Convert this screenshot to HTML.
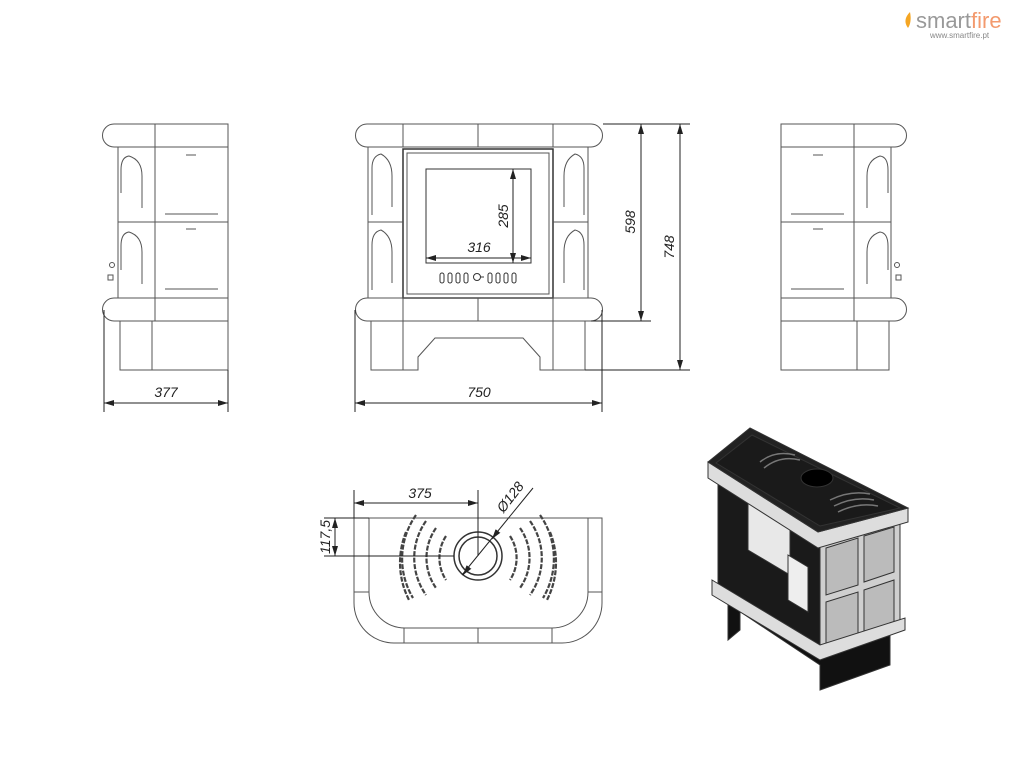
<!DOCTYPE html>
<html><head><meta charset="utf-8"><style>
html,body{margin:0;padding:0;background:#fff;}
svg{display:block}
text{font-family:"Liberation Sans",sans-serif;font-style:italic;fill:#222}
</style></head><body>
<svg width="1024" height="768" viewBox="0 0 1024 768" xmlns="http://www.w3.org/2000/svg">
<defs>
<marker id="a" viewBox="0 0 10 6" refX="10" refY="3" markerWidth="10" markerHeight="6" orient="auto-start-reverse"><path d="M0,0 L10,3 L0,6z" fill="#222"/></marker>
<g id="side" fill="none" stroke="#555" stroke-width="1">
 <path d="M114,124 H228 V147 H114 A11.5,11.5 0 0 1 114,124z"/>
 <line x1="155" y1="124" x2="155" y2="147"/>
 <rect x="118" y="147" width="110" height="151"/>
 <line x1="155" y1="147" x2="155" y2="298"/>
 <line x1="118" y1="222" x2="228" y2="222"/>
 <path d="M121,193 V170 Q121,157 129,156 Q142,160 142,176 V208"/>
 <path d="M121,270 V246 Q121,233 129,232 Q142,236 142,252 V284"/>
 <line x1="165" y1="214" x2="218" y2="214"/>
 <line x1="165" y1="289" x2="218" y2="289"/>
 <line x1="186" y1="155" x2="196" y2="155"/>
 <line x1="186" y1="229" x2="196" y2="229"/>
 <path d="M114,298 H228 V321 H114 A11.5,11.5 0 0 1 114,298z"/>
 <line x1="155" y1="298" x2="155" y2="321"/>
 <rect x="120" y="321" width="108" height="49"/>
 <line x1="152" y1="321" x2="152" y2="370"/>
 <circle cx="112" cy="265" r="2.5"/><rect x="108" y="275" width="5" height="5"/>
</g>
</defs>

<!-- left side view -->
<use href="#side"/>
<g stroke="#222" stroke-width="1" fill="none">
<line x1="104" y1="310" x2="104" y2="412"/><line x1="228" y1="370" x2="228" y2="412"/>
<line x1="104" y1="403" x2="228" y2="403" marker-start="url(#a)" marker-end="url(#a)"/>
</g>
<text x="166" y="397" font-size="14" text-anchor="middle">377</text>

<!-- right side view -->
<use href="#side" transform="translate(1009,0) scale(-1,1)"/>

<!-- front view -->
<g fill="none" stroke="#555" stroke-width="1">
 <path d="M367,124 H591 A11.5,11.5 0 0 1 591,147 H367 A11.5,11.5 0 0 1 367,124z"/>
 <line x1="403" y1="124" x2="403" y2="147"/><line x1="478" y1="124" x2="478" y2="147"/><line x1="553" y1="124" x2="553" y2="147"/>
 <rect x="368" y="147" width="220" height="151"/>
 <rect x="403" y="149" width="150" height="149" stroke="#333" stroke-width="1.5"/>
 <rect x="407" y="153" width="142" height="141"/>
 <line x1="368" y1="222" x2="403" y2="222"/><line x1="553" y1="222" x2="588" y2="222"/>
 <path d="M372,215 V168 Q372,156 381,154 Q392,160 392,176 V207"/>
 <path d="M372,290 V245 Q372,232 381,230 Q392,236 392,252 V283"/>
 <path d="M584,215 V168 Q584,156 575,154 Q564,160 564,176 V207"/>
 <path d="M584,290 V245 Q584,232 575,230 Q564,236 564,252 V283"/>
 <rect x="426" y="169" width="105" height="94" stroke="#333"/>
 <g stroke="#333">
 <rect x="440" y="273" width="4" height="10" rx="2"/><rect x="448" y="273" width="4" height="10" rx="2"/><rect x="456" y="273" width="4" height="10" rx="2"/><rect x="464" y="273" width="4" height="10" rx="2"/>
 <circle cx="477" cy="277" r="3.5"/><line x1="480" y1="277" x2="484" y2="277"/>
 <rect x="488" y="273" width="4" height="10" rx="2"/><rect x="496" y="273" width="4" height="10" rx="2"/><rect x="504" y="273" width="4" height="10" rx="2"/><rect x="512" y="273" width="4" height="10" rx="2"/>
 </g>
 <path d="M367,298 H591 A11.5,11.5 0 0 1 591,321 H367 A11.5,11.5 0 0 1 367,298z"/>
 <line x1="403" y1="298" x2="403" y2="321"/><line x1="478" y1="298" x2="478" y2="321"/><line x1="553" y1="298" x2="553" y2="321"/>
 <path d="M371,321 V370 H418 V357 L435,338 H523 L540,357 V370 H585 V321"/>
 <line x1="403" y1="321" x2="403" y2="370"/><line x1="553" y1="321" x2="553" y2="370"/>
</g>
<g stroke="#222" stroke-width="1" fill="none">
 <line x1="513" y1="169" x2="513" y2="263" marker-start="url(#a)" marker-end="url(#a)"/>
 <line x1="426" y1="258" x2="531" y2="258" marker-start="url(#a)" marker-end="url(#a)"/>
 <line x1="603" y1="124" x2="690" y2="124"/>
 <line x1="591" y1="321" x2="651" y2="321"/>
 <line x1="585" y1="370" x2="690" y2="370"/>
 <line x1="641" y1="124" x2="641" y2="321" marker-start="url(#a)" marker-end="url(#a)"/>
 <line x1="680" y1="124" x2="680" y2="370" marker-start="url(#a)" marker-end="url(#a)"/>
 <line x1="355" y1="310" x2="355" y2="412"/><line x1="602" y1="310" x2="602" y2="412"/>
 <line x1="355" y1="403" x2="602" y2="403" marker-start="url(#a)" marker-end="url(#a)"/>
</g>
<text x="479" y="252" font-size="14" text-anchor="middle">316</text>
<text transform="translate(508,216) rotate(-90)" font-size="14" text-anchor="middle">285</text>
<text transform="translate(635,222) rotate(-90)" font-size="14" text-anchor="middle">598</text>
<text transform="translate(674,247) rotate(-90)" font-size="14" text-anchor="middle">748</text>
<text x="479" y="397" font-size="14" text-anchor="middle">750</text>

<!-- top view -->
<g fill="none" stroke="#555" stroke-width="1">
 <path d="M354,518 H369 V592 H354z"/><path d="M588,518 H602 V592 H588z"/>
 <path d="M354,592 V603 A40,40 0 0 0 394,643 H562 A40,40 0 0 0 602,603 V592"/>
 <path d="M369,518 H588 V592 A36,36 0 0 1 552,628 H405 A36,36 0 0 1 369,592z"/>
 <line x1="404" y1="628" x2="404" y2="643"/><line x1="478" y1="628" x2="478" y2="643"/><line x1="552" y1="628" x2="552" y2="643"/>
 <circle cx="478" cy="556" r="24" stroke="#333" stroke-width="1.5"/>
 <circle cx="478" cy="556" r="19" stroke="#333" stroke-width="1.5"/>
 <g stroke="#444" stroke-width="2.2" stroke-dasharray="5 1.5">
  <path d="M446,536 A40,40 0 0 0 446,580"/><path d="M436,528 A52,52 0 0 0 436,588"/><path d="M426,521 A64,64 0 0 0 426,595"/><path d="M416,515 A76,76 0 0 0 413,598"/><path d="M406,532 A82,82 0 0 0 409,600"/>
  <path d="M510,536 A40,40 0 0 1 510,580"/><path d="M520,528 A52,52 0 0 1 520,588"/><path d="M530,521 A64,64 0 0 1 530,595"/><path d="M540,515 A76,76 0 0 1 543,598"/><path d="M550,532 A82,82 0 0 1 547,600"/>
 </g>
</g>
<g stroke="#222" stroke-width="1" fill="none">
 <line x1="354" y1="490" x2="354" y2="518"/><line x1="478" y1="490" x2="478" y2="556"/>
 <line x1="354" y1="503" x2="478" y2="503" marker-start="url(#a)" marker-end="url(#a)"/>
 <line x1="324" y1="518" x2="369" y2="518"/><line x1="324" y1="556" x2="454" y2="556"/>
 <line x1="335" y1="518" x2="335" y2="556" marker-start="url(#a)" marker-end="url(#a)"/>
 <line x1="533" y1="488" x2="462" y2="575"/>
 <line x1="495" y1="535" x2="492" y2="539" marker-end="url(#a)"/>
 <line x1="466" y1="571" x2="463" y2="575" marker-end="url(#a)"/>
</g>
<text x="420" y="498" font-size="14" text-anchor="middle">375</text>
<text transform="translate(330,537) rotate(-90)" font-size="14" text-anchor="middle">117,5</text>
<text transform="translate(514,500) rotate(-52)" font-size="14" text-anchor="middle">Ø128</text>

<!-- 3D view -->
<g stroke="#333" stroke-width="1">
 <path d="M730,605 L820,665 L820,690 L890,665 L890,620 L820,640 L740,600z" fill="#111"/>
 <path d="M728,600 L728,640 L740,630 L740,605z" fill="#111"/>
 <path d="M718,478 L820,540 L820,650 L718,590z" fill="#1a1a1a"/>
 <path d="M748,500 L790,525 L790,575 L748,550z" fill="#e8e8e8"/>
 <path d="M788,555 L808,567 L808,612 L788,600z" fill="#eee"/>
 <path d="M820,540 L900,515 L900,625 L820,650z" fill="#cfcfcf"/>
 <path d="M826,548 L858,538 L858,585 L826,595z" fill="#bbb"/>
 <path d="M864,536 L894,527 L894,572 L864,582z" fill="#bbb"/>
 <path d="M826,602 L858,592 L858,638 L826,648z" fill="#bbb"/>
 <path d="M864,590 L894,580 L894,622 L864,632z" fill="#bbb"/>
 <path d="M712,580 L820,645 L905,618 L905,630 L820,660 L712,595z" fill="#ddd"/>
 <path d="M708,462 L818,532 L908,508 L908,522 L818,548 L708,478z" fill="#ddd"/>
 <path d="M708,462 L750,428 L908,508 L818,532z" fill="#222"/>
 <path d="M716,463 L752,435 L900,508 L820,526z" fill="#1a1a1a"/>
 <ellipse cx="817" cy="478" rx="16" ry="9" fill="#000"/>
</g>
<g stroke="#777" stroke-width="1.5" fill="none">
 <path d="M760,462 Q775,450 795,455"/><path d="M764,468 Q780,455 800,460"/>
 <path d="M830,500 Q850,490 870,494"/><path d="M834,506 Q854,496 874,500"/><path d="M838,512 Q858,502 878,506"/>
</g>

<!-- logo -->
<path d="M910,12 Q902,20 908,28 Q912,22 910,12z" fill="#f5a623"/>
<text x="916" y="28" font-size="22" style="font-style:normal;fill:#999">smart<tspan style="fill:#f39a6e">fire</tspan></text>
<text x="930" y="38" font-size="8" style="font-style:normal;fill:#888">www.smartfire.pt</text>
</svg>
</body></html>
